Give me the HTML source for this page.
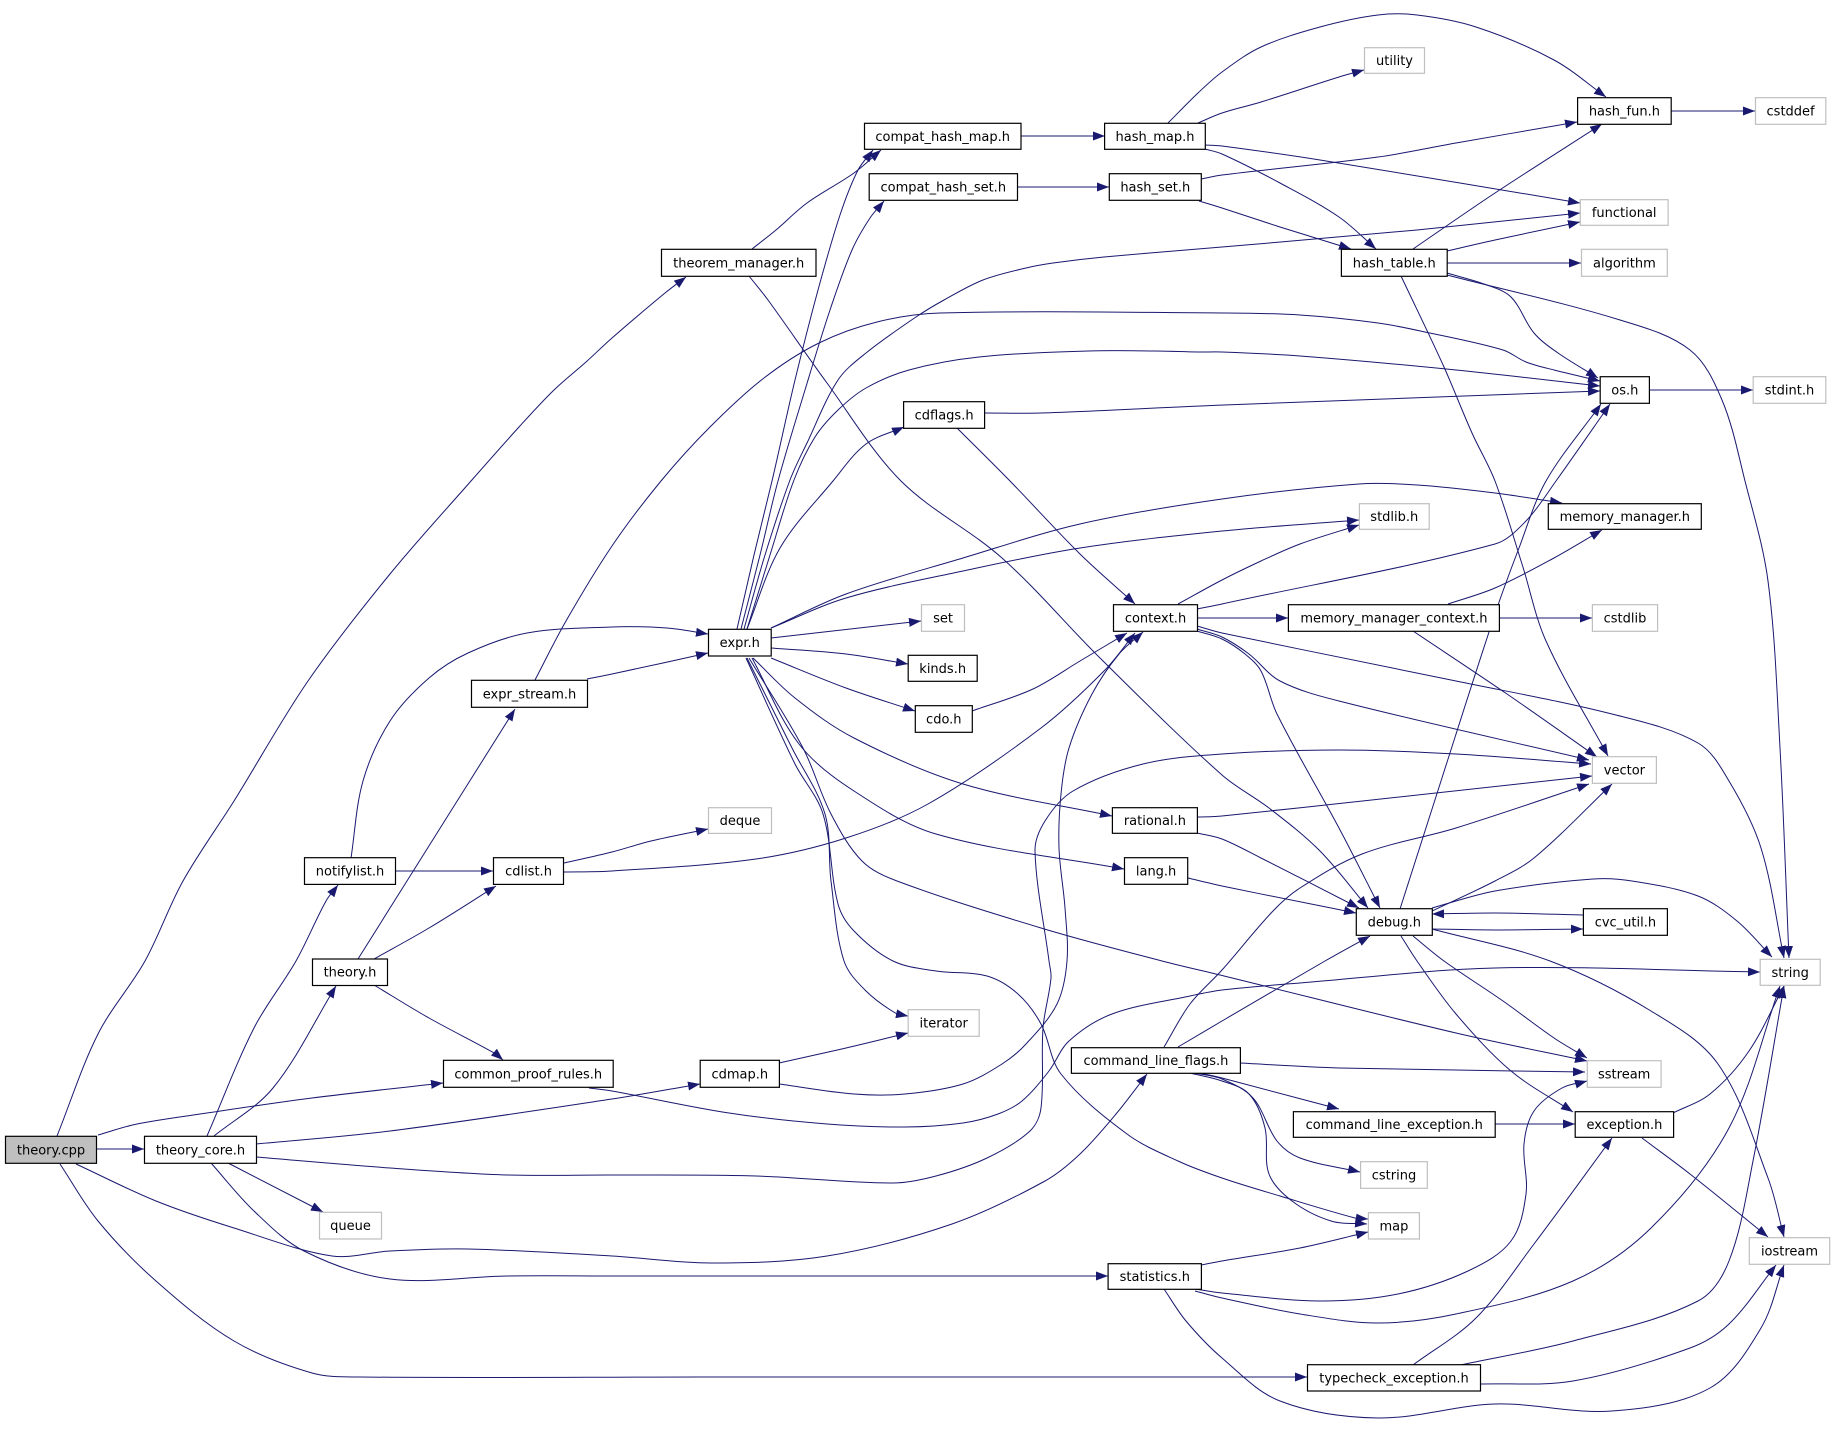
<!DOCTYPE html>
<html><head><meta charset="utf-8"><style>
html,body{margin:0;padding:0;background:#fff;}
svg{display:block;}
.e{fill:none;stroke:#191970;stroke-width:1;}
.n{fill:#fff;stroke:#000;stroke-width:1.2;}
.g{fill:#fff;stroke:#bfbfbf;stroke-width:1.2;}
.r{fill:#bfbfbf;stroke:#000;stroke-width:1.2;}
text{font-family:"DejaVu Sans","Liberation Sans",sans-serif;font-size:13px;fill:#000;text-anchor:middle;}
</style></head><body>
<svg width="1834" height="1442" viewBox="0 0 1834 1442">
<defs><marker id="a" markerWidth="13" markerHeight="10" refX="12" refY="4.5" orient="auto" markerUnits="userSpaceOnUse"><path d="M0,0 L12,4.5 L0,9 z" fill="#191970"/></marker></defs>
<g id="edges">
<polyline class="e" marker-end="url(#a)" points="57,1136 98,1034 145,961 183,881 234,801 308,681 390,574 471,481 519,427 554,390 586,362 612,338 665,293 686,277"/>
<polyline class="e" marker-end="url(#a)" points="96,1149 144,1149"/>
<polyline class="e" marker-end="url(#a)" points="98,1135 137,1124 207,1113 312,1098 443,1083"/>
<polyline class="e" marker-end="url(#a)" points="76,1164 156,1201 234,1228 332,1256 390,1251 468,1249 612,1256 710,1263 827,1256 952,1224 1045,1181 1080,1154 1116,1114 1147,1074"/>
<polyline class="e" marker-end="url(#a)" points="60,1164 98,1221 156,1281 234,1341 312,1373 360,1377 700,1377 1307,1377"/>
<polyline class="e" marker-end="url(#a)" points="214,1136 273,1088 336,986"/>
<polyline class="e" marker-end="url(#a)" points="207,1136 254,1028 296,961 326,901 338,885"/>
<polyline class="e" marker-end="url(#a)" points="228,1163 323,1212"/>
<polyline class="e" marker-end="url(#a)" points="256,1144 390,1131 612,1099 700,1084"/>
<polyline class="e" marker-end="url(#a)" points="211,1163 254,1211 304,1251 390,1279 507,1276 612,1276 900,1276 1108,1276"/>
<polyline class="e" marker-end="url(#a)" points="256,1157 390,1168 507,1175 612,1175 756,1176 893,1183 936,1176 987,1158 1030,1131 1041,1108 1043,1028 1051,978 1049,961 1035,851 1045,821 1073,791 1143,764 1222,754 1339,750 1456,754 1591,764"/>
<polyline class="e" marker-end="url(#a)" points="358,959 449,814 515,709"/>
<polyline class="e" marker-end="url(#a)" points="374,959 429,928 496,886"/>
<polyline class="e" marker-end="url(#a)" points="374,985 429,1018 496,1054 503,1060"/>
<polyline class="e" marker-end="url(#a)" points="395,871 493,871"/>
<polyline class="e" marker-end="url(#a)" points="351,858 363,781 390,721 429,678 468,653 527,633 612,627 667,628 708,634"/>
<polyline class="e" marker-end="url(#a)" points="564,863 612,852 651,841 708,829"/>
<polyline class="e" marker-end="url(#a)" points="564,872 612,871 756,859 846,838 928,804 1041,728 1104,671 1135,633"/>
<polyline class="e" marker-end="url(#a)" points="587,679 612,674 663,663 708,653"/>
<polyline class="e" marker-end="url(#a)" points="535,680 566,621 612,546 661,481 710,427 764,378 819,343 877,322 940,313 1224,313 1300,315 1378,323 1425,332 1503,350 1526,362 1554,370 1600,381"/>
<polyline class="e" marker-end="url(#a)" points="737,629 754,555 772,481 795,380 818,290 840,215 858,170 873,150"/>
<polyline class="e" marker-end="url(#a)" points="741,629 760,555 778,481 805,390 830,310 852,250 870,218 884,201"/>
<polyline class="e" marker-end="url(#a)" points="744,629 765,555 790,480 807,443 838,380 866,353 916,317 944,300 983,280 1026,268 1053,263 1104,257 1222,247 1417,230 1580,213"/>
<polyline class="e" marker-end="url(#a)" points="747,629 770,555 794,480 815,437 838,410 866,388 909,370 979,357 1088,351 1155,351 1198,352 1222,352 1300,356 1456,370 1600,386"/>
<polyline class="e" marker-end="url(#a)" points="747,629 780,548 833,481 866,444 904,427"/>
<polyline class="e" marker-end="url(#a)" points="771,638 921,621"/>
<polyline class="e" marker-end="url(#a)" points="771,648 846,654 908,664"/>
<polyline class="e" marker-end="url(#a)" points="771,658 846,688 915,711"/>
<polyline class="e" marker-end="url(#a)" points="753,658 795,698 854,738 963,784 1112,816"/>
<polyline class="e" marker-end="url(#a)" points="752,658 799,744 854,791 936,834 1124,869"/>
<polyline class="e" marker-end="url(#a)" points="747,658 792,748 825,814 831,881 844,961 866,991 897,1014 908,1016"/>
<polyline class="e" marker-end="url(#a)" points="749,658 803,748 831,814 862,861 897,881 1041,928 1162,961 1224,976 1456,1033 1587,1061"/>
<polyline class="e" marker-end="url(#a)" points="746,658 795,764 823,814 838,904 854,931 893,961 936,971 987,976 1018,994 1041,1024 1061,1074 1127,1134 1178,1161 1222,1178 1280,1196 1355,1218 1368,1219"/>
<polyline class="e" marker-end="url(#a)" points="771,628 846,598 963,571 1080,548 1222,531 1359,520"/>
<polyline class="e" marker-end="url(#a)" points="771,628 846,594 963,558 1080,524 1222,499 1359,484 1417,485 1495,493 1562,503"/>
<polyline class="e" marker-end="url(#a)" points="1021,136 1105,136"/>
<polyline class="e" marker-end="url(#a)" points="1018,187 1109,187"/>
<polyline class="e" marker-end="url(#a)" points="1168,123 1198,93 1222,72 1261,47 1320,27 1378,15 1417,15 1476,27 1554,60 1606,97"/>
<polyline class="e" marker-end="url(#a)" points="1198,123 1222,113 1261,102 1339,77 1364,70"/>
<polyline class="e" marker-end="url(#a)" points="1205,145 1222,146 1320,160 1580,203"/>
<polyline class="e" marker-end="url(#a)" points="1205,149 1222,154 1280,183 1339,217 1376,249"/>
<polyline class="e" marker-end="url(#a)" points="1201,179 1222,175 1378,157 1456,143 1577,122"/>
<polyline class="e" marker-end="url(#a)" points="1199,201 1222,208 1280,227 1351,249"/>
<polyline class="e" marker-end="url(#a)" points="1413,249 1495,193 1602,124"/>
<polyline class="e" marker-end="url(#a)" points="1447,251 1495,240 1580,222"/>
<polyline class="e" marker-end="url(#a)" points="1447,263 1581,263"/>
<polyline class="e" marker-end="url(#a)" points="1447,273 1487,285 1511,297 1534,333 1558,353 1598,378"/>
<polyline class="e" marker-end="url(#a)" points="1447,275 1620,320 1690,350 1722,400 1745,481 1768,581 1780,748 1789,958"/>
<polyline class="e" marker-end="url(#a)" points="1401,276 1444,367 1472,433 1495,481 1522,564 1546,641 1608,756"/>
<polyline class="e" marker-end="url(#a)" points="1671,111 1755,111"/>
<polyline class="e" marker-end="url(#a)" points="1649,390 1753,390"/>
<polyline class="e" marker-end="url(#a)" points="985,413 1041,413 1224,405 1600,391"/>
<polyline class="e" marker-end="url(#a)" points="957,428 1010,481 1080,554 1135,604"/>
<polyline class="e" marker-end="url(#a)" points="972,711 1033,689 1080,661 1127,633"/>
<polyline class="e" marker-end="url(#a)" points="1178,604 1222,580 1261,561 1300,544 1359,525"/>
<polyline class="e" marker-end="url(#a)" points="1197,609 1222,604 1495,544 1526,521 1556,481 1610,404"/>
<polyline class="e" marker-end="url(#a)" points="1197,618 1288,618"/>
<polyline class="e" marker-end="url(#a)" points="1197,626 1222,633 1456,681 1612,714 1698,743 1729,781 1761,848 1784,958"/>
<polyline class="e" marker-end="url(#a)" points="1197,629 1222,637 1249,654 1280,681 1339,701 1589,760"/>
<polyline class="e" marker-end="url(#a)" points="1197,631 1222,639 1245,654 1261,671 1277,714 1339,828 1380,908"/>
<polyline class="e" marker-end="url(#a)" points="1499,618 1592,618"/>
<polyline class="e" marker-end="url(#a)" points="1448,604 1495,588 1554,558 1602,530"/>
<polyline class="e" marker-end="url(#a)" points="1413,631 1507,694 1597,757"/>
<polyline class="e" marker-end="url(#a)" points="1197,817 1222,816 1592,776"/>
<polyline class="e" marker-end="url(#a)" points="1197,833 1222,839 1261,858 1359,908"/>
<polyline class="e" marker-end="url(#a)" points="1188,878 1222,886 1356,913"/>
<polyline class="e" marker-end="url(#a)" points="1400,909 1441,781 1495,614 1519,548 1546,481 1601,404"/>
<polyline class="e" marker-end="url(#a)" points="1432,911 1495,881 1534,858 1612,784"/>
<polyline class="e" marker-end="url(#a)" points="1432,929 1495,930 1583,929"/>
<polyline class="e" marker-end="url(#a)" points="1583,915 1495,913 1432,914"/>
<polyline class="e" marker-end="url(#a)" points="1432,908 1495,891 1593,879 1632,881 1698,896 1737,921 1772,957"/>
<polyline class="e" marker-end="url(#a)" points="1413,936 1444,961 1503,1001 1554,1038 1587,1058"/>
<polyline class="e" marker-end="url(#a)" points="1401,936 1417,961 1456,1014 1511,1071 1573,1112"/>
<polyline class="e" marker-end="url(#a)" points="1432,929 1550,961 1651,1011 1718,1064 1768,1178 1784,1237"/>
<polyline class="e" marker-end="url(#a)" points="1178,1047 1222,1021 1325,961 1370,936"/>
<polyline class="e" marker-end="url(#a)" points="1164,1047 1190,1004 1222,970 1273,911 1300,888 1362,854 1456,828 1589,784"/>
<polyline class="e" marker-end="url(#a)" points="1240,1063 1339,1068 1585,1072"/>
<polyline class="e" marker-end="url(#a)" points="1200,1073 1222,1078 1339,1109"/>
<polyline class="e" marker-end="url(#a)" points="1195,1073 1222,1079 1253,1098 1277,1141 1300,1158 1360,1172"/>
<polyline class="e" marker-end="url(#a)" points="1190,1073 1222,1081 1249,1094 1265,1128 1269,1174 1292,1201 1331,1221 1367,1224"/>
<polyline class="e" marker-end="url(#a)" points="1495,1124 1575,1124"/>
<polyline class="e" marker-end="url(#a)" points="1673,1113 1710,1094 1749,1051 1784,986"/>
<polyline class="e" marker-end="url(#a)" points="1642,1138 1690,1174 1768,1237"/>
<polyline class="e" marker-end="url(#a)" points="1201,1265 1222,1261 1300,1248 1368,1232"/>
<polyline class="e" marker-end="url(#a)" points="1195,1289 1222,1293 1320,1301 1398,1294 1468,1271 1511,1241 1526,1194 1524,1144 1534,1111 1562,1088 1587,1081"/>
<polyline class="e" marker-end="url(#a)" points="1195,1291 1222,1298 1300,1314 1378,1323 1456,1314 1573,1281 1651,1228 1729,1128 1780,986"/>
<polyline class="e" marker-end="url(#a)" points="1164,1289 1186,1321 1222,1358 1280,1401 1378,1418 1495,1404 1612,1411 1710,1388 1761,1328 1784,1265"/>
<polyline class="e" marker-end="url(#a)" points="1413,1365 1476,1318 1534,1244 1612,1138"/>
<polyline class="e" marker-end="url(#a)" points="1460,1365 1573,1341 1698,1301 1729,1261 1753,1161 1784,986"/>
<polyline class="e" marker-end="url(#a)" points="1480,1384 1573,1381 1690,1348 1729,1324 1776,1265"/>
<polyline class="e" marker-end="url(#a)" points="752,249 776,230 807,203 854,173 881,150"/>
<polyline class="e" marker-end="url(#a)" points="749,276 768,300 827,383 901,481 1002,558 1100,658 1222,775 1269,808 1320,851 1368,908"/>
<polyline class="e" marker-end="url(#a)" points="779,1063 846,1048 908,1033"/>
<polyline class="e" marker-end="url(#a)" points="779,1084 854,1094 905,1094 963,1084 1002,1064 1026,1044 1057,1004 1067,961 1065,908 1059,848 1061,794 1069,748 1092,694 1119,654 1143,632"/>
<polyline class="e" marker-end="url(#a)" points="589,1088 612,1091 729,1113 827,1124 905,1127 963,1123 998,1114 1022,1101 1049,1071 1069,1041 1112,1014 1190,996 1222,990 1300,983 1495,968 1760,972"/>
</g>
<g id="nodes">
<rect class="r" x="5.5" y="1136.3" width="91" height="27"/><text x="51" y="1154.3">theory.cpp</text>
<rect class="n" x="144.5" y="1136.3" width="112" height="27"/><text x="200.5" y="1154.3">theory_core.h</text>
<rect class="n" x="312.5" y="959" width="75" height="26.5"/><text x="350" y="976.7">theory.h</text>
<rect class="n" x="304.5" y="857.7" width="91" height="26.7"/><text x="350" y="875.5">notifylist.h</text>
<rect class="n" x="493.5" y="857.7" width="70" height="26.7"/><text x="528.5" y="875.5">cdlist.h</text>
<rect class="n" x="471.5" y="680.3" width="116" height="27"/><text x="529.5" y="698.3">expr_stream.h</text>
<rect class="n" x="661.5" y="249.3" width="154.5" height="27"/><text x="738.7" y="267.3">theorem_manager.h</text>
<rect class="n" x="443.5" y="1060.3" width="169.7" height="27"/><text x="528.3" y="1078.3">common_proof_rules.h</text>
<rect class="g" x="319.5" y="1212.3" width="62" height="26.7"/><text x="350.5" y="1230.1">queue</text>
<rect class="n" x="708.5" y="629.3" width="62.7" height="26.7"/><text x="739.8" y="647.1">expr.h</text>
<rect class="g" x="708.5" y="807.7" width="63" height="25.7"/><text x="740" y="825">deque</text>
<rect class="n" x="864.5" y="123.3" width="156.5" height="26"/><text x="942.7" y="140.8">compat_hash_map.h</text>
<rect class="n" x="869.2" y="173.7" width="148.3" height="26.6"/><text x="943.3" y="191.5">compat_hash_set.h</text>
<rect class="n" x="903.6" y="401.7" width="81" height="26.6"/><text x="944.1" y="419.5">cdflags.h</text>
<rect class="g" x="921.5" y="604.7" width="43" height="26.6"/><text x="943" y="622.5">set</text>
<rect class="n" x="908.2" y="655.3" width="69" height="26"/><text x="942.7" y="672.8">kinds.h</text>
<rect class="n" x="915.3" y="705.7" width="57" height="26.6"/><text x="943.8" y="723.5">cdo.h</text>
<rect class="g" x="908.2" y="1009.7" width="71" height="26.6"/><text x="943.7" y="1027.5">iterator</text>
<rect class="n" x="700.2" y="1060.3" width="79.2" height="27"/><text x="739.8" y="1078.3">cdmap.h</text>
<rect class="n" x="1104.6" y="123.3" width="100.7" height="26"/><text x="1155" y="140.8">hash_map.h</text>
<rect class="n" x="1109.3" y="173.7" width="92" height="26.6"/><text x="1155.3" y="191.5">hash_set.h</text>
<rect class="n" x="1113.5" y="604.7" width="84" height="26.6"/><text x="1155.5" y="622.5">context.h</text>
<rect class="n" x="1112.4" y="807.7" width="85" height="25.6"/><text x="1154.9" y="825">rational.h</text>
<rect class="n" x="1124.5" y="857.7" width="63.2" height="26.6"/><text x="1156.1" y="875.5">lang.h</text>
<rect class="n" x="1071.4" y="1047.7" width="169" height="25.6"/><text x="1155.9" y="1065">command_line_flags.h</text>
<rect class="n" x="1108.1" y="1263.7" width="93.3" height="25.6"/><text x="1154.8" y="1281">statistics.h</text>
<rect class="g" x="1364.5" y="47.7" width="60" height="25.6"/><text x="1394.5" y="65">utility</text>
<rect class="n" x="1341.4" y="249.3" width="105.8" height="27"/><text x="1394.3" y="267.3">hash_table.h</text>
<rect class="g" x="1359.4" y="503.7" width="69.8" height="25.6"/><text x="1394.3" y="521">stdlib.h</text>
<rect class="n" x="1288.4" y="604.7" width="211" height="26.6"/><text x="1393.9" y="622.5">memory_manager_context.h</text>
<rect class="n" x="1356.3" y="908.7" width="76" height="26.6"/><text x="1394.3" y="926.5">debug.h</text>
<rect class="n" x="1293.4" y="1111.7" width="201.8" height="25.6"/><text x="1394.3" y="1129">command_line_exception.h</text>
<rect class="g" x="1360.6" y="1161.7" width="66.7" height="26.6"/><text x="1394" y="1179.5">cstring</text>
<rect class="g" x="1368.4" y="1212.7" width="51" height="26.3"/><text x="1393.9" y="1230.4">map</text>
<rect class="n" x="1307.5" y="1364.7" width="173" height="26.3"/><text x="1394" y="1382.4">typecheck_exception.h</text>
<rect class="n" x="1577.6" y="97.7" width="93.6" height="26.6"/><text x="1624.4" y="115.5">hash_fun.h</text>
<rect class="g" x="1580.3" y="199.7" width="87.8" height="25.6"/><text x="1624.2" y="217">functional</text>
<rect class="g" x="1581.5" y="249.3" width="85.8" height="27"/><text x="1624.4" y="267.3">algorithm</text>
<rect class="n" x="1600.2" y="376.7" width="49.2" height="26.6"/><text x="1624.8" y="394.5">os.h</text>
<rect class="n" x="1548.3" y="503.7" width="153" height="25.6"/><text x="1624.8" y="521">memory_manager.h</text>
<rect class="g" x="1592.4" y="604.7" width="65.2" height="26.6"/><text x="1625" y="622.5">cstdlib</text>
<rect class="g" x="1592.4" y="756.7" width="64" height="26.6"/><text x="1624.4" y="774.5">vector</text>
<rect class="n" x="1583.4" y="908.7" width="84" height="26.6"/><text x="1625.4" y="926.5">cvc_util.h</text>
<rect class="g" x="1587.3" y="1060.7" width="73.8" height="26.6"/><text x="1624.2" y="1078.5">sstream</text>
<rect class="n" x="1575.2" y="1111.7" width="98.4" height="25.6"/><text x="1624.4" y="1129">exception.h</text>
<rect class="g" x="1755.5" y="97.7" width="70.3" height="26.6"/><text x="1790.6" y="115.5">cstddef</text>
<rect class="g" x="1753.2" y="376.7" width="72.6" height="26.6"/><text x="1789.5" y="394.5">stdint.h</text>
<rect class="g" x="1760.2" y="959.3" width="60" height="26"/><text x="1790.2" y="976.8">string</text>
<rect class="g" x="1749.3" y="1237.7" width="80.4" height="26.6"/><text x="1789.5" y="1255.5">iostream</text>
</g>
</svg>
<script>
(function(){
function nrm(x,y){var l=Math.sqrt(x*x+y*y)||1;return [x/l,y/l];}
var list=document.querySelectorAll('polyline.e');
for(var k=0;k<list.length;k++){
 var pl=list[k];
 var raw=pl.getAttribute('points').trim().split(/\s+/);
 var pts=[];
 for(var j=0;j<raw.length;j++){var a=raw[j].split(',');pts.push([+a[0],+a[1]]);}
 var n=pts.length;
 if(n<3) continue;
 var t=[];
 for(var i=0;i<n;i++){
  var pa=pts[i>0?i-1:0],pb=pts[i<n-1?i+1:n-1];
  t.push(nrm(pb[0]-pa[0],pb[1]-pa[1]));
 }
 var d='M'+pts[0][0]+','+pts[0][1];
 for(var i=0;i<n-1;i++){
  var p1=pts[i],p2=pts[i+1];
  var L=Math.sqrt((p2[0]-p1[0])*(p2[0]-p1[0])+(p2[1]-p1[1])*(p2[1]-p1[1]))/3;
  var c1x=p1[0]+t[i][0]*L,c1y=p1[1]+t[i][1]*L;
  var c2x=p2[0]-t[i+1][0]*L,c2y=p2[1]-t[i+1][1]*L;
  d+=' C'+c1x.toFixed(1)+','+c1y.toFixed(1)+' '+c2x.toFixed(1)+','+c2y.toFixed(1)+' '+p2[0]+','+p2[1];
 }
 var p=document.createElementNS(pl.namespaceURI,'path');
 p.setAttribute('d',d);p.setAttribute('class','e');p.setAttribute('marker-end','url(#a)');
 pl.parentNode.replaceChild(p,pl);
}
})();
</script>
</body></html>
